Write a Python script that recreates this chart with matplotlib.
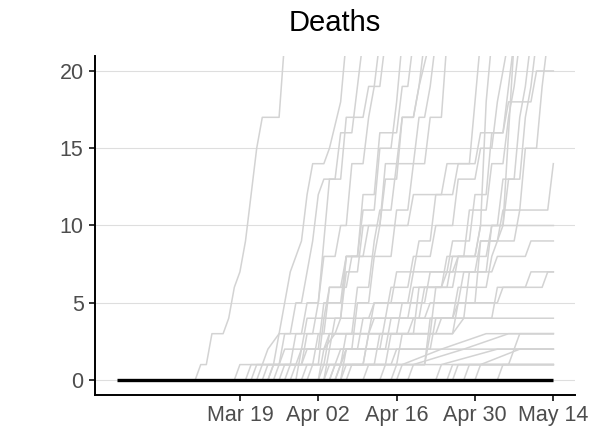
import numpy as np
import matplotlib
matplotlib.use("Agg")
import matplotlib.pyplot as plt
import matplotlib.dates as mdates

plt.rcParams['font.family'] = ['Liberation Sans', 'DejaVu Sans']

# Day 0 is Feb 26 2020
start = np.datetime64('2020-02-26')

# Cumulative deaths per county: (day, deaths) points
c01 = [(14, 0), (15, 1), (16, 1), (17, 3), (19, 3), (20, 4), (21, 6), (22, 7), (23, 9), (24, 12), (25, 15), (26, 17), (29, 17), (30, 22)]
c02 = [(21, 0), (22, 1), (26, 1), (27, 2), (29, 3), (30, 5), (31, 7), (33, 9), (34, 12), (35, 14), (37, 14), (38, 15), (40, 18), (41, 22)]
c03 = [(23, 0), (24, 1), (28, 1), (29, 3), (31, 3), (32, 5), (33, 5), (34, 7), (35, 9), (36, 12), (37, 13), (39, 13), (40, 16), (42, 16), (43, 19), (44, 22)]
c04 = [(24, 0), (25, 1), (29, 1), (30, 3), (33, 3), (34, 5), (36, 5), (37, 8), (39, 8), (40, 10), (41, 10), (42, 14), (44, 14), (45, 17), (46, 19), (47, 22)]
c05 = [(26, 0), (27, 1), (31, 1), (32, 3), (35, 3), (36, 5), (37, 9), (38, 13), (40, 13), (41, 17), (44, 17), (45, 19), (47, 19), (48, 22)]
c06 = [(27, 0), (28, 1), (32, 1), (33, 2), (36, 2), (37, 5), (40, 5), (41, 8), (43, 8), (44, 11), (46, 11), (47, 15), (49, 15), (50, 18), (51, 22)]
c07 = [(28, 0), (29, 1), (33, 1), (34, 3), (37, 3), (38, 6), (40, 6), (41, 8), (43, 8), (44, 12), (46, 12), (47, 16), (50, 16), (51, 19), (52, 19), (53, 22)]
c08 = [(29, 0), (30, 1), (35, 1), (36, 3), (39, 3), (40, 4), (41, 8), (44, 8), (45, 10), (47, 10), (48, 13), (50, 13), (51, 17), (53, 17), (54, 19), (55, 22)]
c09 = [(30, 0), (31, 1), (36, 1), (37, 4), (40, 4), (41, 7), (43, 7), (44, 10), (47, 10), (48, 14), (50, 14), (51, 17), (53, 17), (54, 19), (56, 22)]
c10 = [(32, 0), (33, 2), (37, 2), (38, 3), (42, 3), (43, 6), (45, 6), (46, 9), (47, 11), (49, 11), (50, 14), (53, 14), (54, 17), (55, 17), (56, 19), (57, 22)]
c11 = [(34, 0), (35, 1), (39, 1), (40, 2), (42, 2), (43, 5), (45, 5), (46, 8), (49, 8), (50, 11), (52, 11), (53, 14), (55, 14), (56, 17), (58, 17), (59, 22)]
c12 = [(36, 0), (37, 1), (40, 1), (41, 3), (45, 3), (46, 5), (49, 5), (50, 7), (53, 7), (54, 9), (56, 9), (57, 12), (60, 12), (61, 14), (63, 14), (64, 18), (65, 22)]
c13 = [(37, 0), (38, 2), (43, 2), (44, 4), (48, 4), (49, 6), (52, 6), (53, 8), (56, 8), (57, 10), (60, 10), (61, 13), (64, 13), (65, 15), (67, 15), (68, 18), (70, 22)]
c14 = [(38, 0), (39, 1), (44, 1), (45, 3), (50, 3), (51, 5), (55, 5), (56, 7), (59, 7), (60, 9), (63, 9), (64, 12), (66, 12), (67, 16), (69, 16), (70, 19), (71, 22)]
c15 = [(39, 0), (40, 1), (46, 1), (47, 3), (53, 3), (54, 6), (58, 6), (59, 8), (62, 8), (63, 11), (66, 11), (67, 14), (69, 14), (70, 17), (71, 19), (72, 22)]
c16 = [(40, 0), (41, 2), (48, 2), (49, 4), (54, 4), (55, 6), (59, 6), (60, 8), (64, 8), (65, 10), (68, 10), (69, 13), (71, 13), (72, 17), (73, 19), (74, 22)]
c17 = [(41, 0), (42, 1), (49, 1), (50, 2), (56, 2), (57, 4), (62, 4), (63, 7), (66, 7), (67, 10), (69, 10), (70, 13), (72, 13), (73, 17), (74, 19), (75, 22)]
c18 = [(49, 0), (50, 1), (55, 1), (56, 3), (60, 3), (61, 5), (64, 5), (65, 9), (68, 9), (69, 11), (72, 11), (73, 15), (75, 15), (76, 19), (77, 22)]
c19 = [(25, 0), (26, 1), (29, 1), (30, 2), (33, 2), (34, 4), (37, 4), (38, 6), (41, 6), (42, 8), (46, 8), (47, 10), (52, 10), (53, 12), (58, 12), (59, 14), (64, 14), (65, 16), (69, 16), (70, 18), (74, 18), (75, 20), (78, 20)]
c20 = [(27, 0), (28, 1), (33, 1), (34, 2), (38, 2), (39, 4), (45, 4), (46, 5), (52, 5), (53, 7), (60, 7), (61, 8), (66, 8), (67, 10), (78, 10)]
c21 = [(31, 0), (32, 1), (37, 1), (38, 3), (45, 3), (46, 4), (52, 4), (53, 6), (58, 6), (59, 7), (64, 7), (65, 9), (71, 9), (72, 11), (77, 11), (78, 14)]
c22 = [(33, 0), (34, 1), (40, 1), (41, 2), (47, 2), (48, 4), (55, 4), (56, 5), (61, 5), (62, 7), (67, 7), (68, 8), (73, 8), (74, 9), (78, 9)]
c23 = [(37, 0), (38, 1), (44, 1), (45, 3), (52, 3), (53, 4), (60, 4), (61, 5), (68, 5), (69, 6), (73, 6), (74, 7), (78, 7)]
c24 = [(39, 0), (40, 1), (41, 2), (78, 2)]
c25 = [(40, 0), (41, 1), (48, 1), (49, 3), (57, 3), (58, 4), (67, 4), (68, 6), (76, 6), (77, 7), (78, 7)]
c26 = [(36, 0), (37, 2), (39, 3), (60, 3), (62, 4), (78, 4)]
c27 = [(50, 0), (51, 1), (58, 2), (66, 3), (78, 3)]
c28 = [(52, 0), (53, 1), (62, 2), (70, 3), (78, 3)]
c29 = [(38, 0), (39, 1), (78, 1)]
c30 = [(57, 0), (58, 1), (68, 2), (78, 2)]
c31 = [(59, 0), (60, 1), (70, 1), (72, 3), (78, 3)]
c32 = [(60, 0), (61, 1), (78, 1)]
c33 = [(62, 0), (63, 1), (78, 1)]
c34 = [(64, 0), (65, 1), (72, 2), (78, 2)]
c35 = [(68, 0), (69, 1), (78, 1)]
c36 = [(44, 0), (45, 1), (50, 1), (51, 3), (56, 3), (57, 6), (60, 6), (61, 8), (64, 8), (65, 10), (66, 18), (67, 22)]
c37 = [(47, 0), (48, 1), (55, 1), (56, 4), (60, 4), (61, 6), (66, 6), (67, 8), (69, 10), (70, 16), (71, 22)]

counties = [c01, c02, c03, c04, c05, c06, c07, c08, c09, c10, c11, c12,
            c13, c14, c15, c16, c17, c18, c19, c20, c21, c22, c23, c24,
            c25, c26, c27, c28, c29, c30, c31, c32, c33, c34, c35, c36, c37]

# Highlighted series (black)
main_days = [0, 78]
main_deaths = [0, 0]

tick_days = [22, 36, 50, 64, 78]

fig = plt.figure(figsize=(6.01, 4.36), dpi=100)
ax = fig.add_axes([0.158, 0.0929, 0.957 - 0.158, 0.8727 - 0.0929])

for c in counties:
    d = start + np.array([p[0] for p in c]).astype('timedelta64[D]')
    v = [p[1] for p in c]
    ax.plot(d, v, color='#D3D3D3', lw=1.1, zorder=2)

md = start + np.array(main_days).astype('timedelta64[D]')
ax.plot(md, main_deaths, color='black', lw=2.4, zorder=3, solid_capstyle='butt')

# Limits (ggplot-like 5% expansion)
ax.set_ylim(-1, 21)
lo = mdates.date2num(start) - 3.9
hi = mdates.date2num(start) + 81.9
ax.set_xlim(lo, hi)

ax.set_yticks([0, 5, 10, 15, 20])
ax.set_xticks(start + np.array(tick_days).astype('timedelta64[D]'))
ax.xaxis.set_major_formatter(mdates.DateFormatter('%b %d'))

ax.yaxis.grid(True, color='#DEDEDE', lw=0.8, zorder=0)
ax.xaxis.grid(False)
ax.set_axisbelow(True)

for s in ['top', 'right']:
    ax.spines[s].set_visible(False)
for s in ['left', 'bottom']:
    ax.spines[s].set_linewidth(1.4)
    ax.spines[s].set_color('black')

ax.tick_params(axis='both', length=4.2, width=1.4, color='#333333',
               labelsize=15.5, labelcolor='#4D4D4D')
ax.tick_params(axis='x', pad=3)
ax.tick_params(axis='y', pad=4)

ax.set_title('Deaths', fontsize=21, pad=18)

plt.savefig('out.png', dpi=100)
